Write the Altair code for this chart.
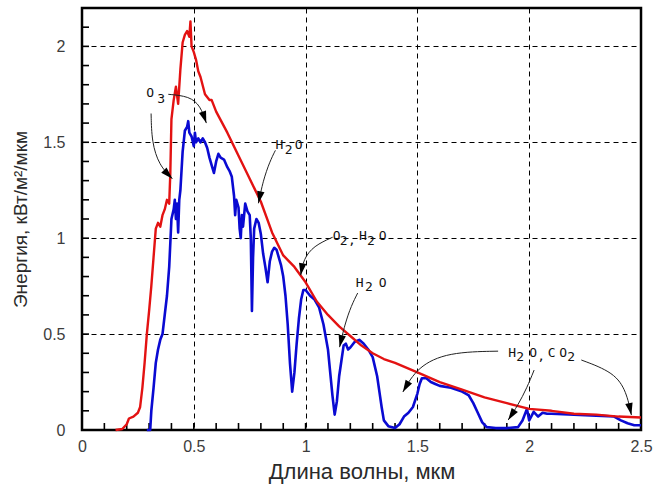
import math
import altair as alt
import pandas as pd

# ---- data: extraterrestrial (red) and sea-level (blue) solar spectra ----
red_lam = [0.15, 0.18, 0.20, 0.21, 0.23, 0.25, 0.26, 0.27, 0.28, 0.29, 0.30, 0.31, 0.32, 0.33,
           0.34, 0.35, 0.36, 0.37, 0.38, 0.39, 0.395, 0.40, 0.41, 0.42, 0.43, 0.44, 0.45, 0.46,
           0.47, 0.48, 0.485, 0.49, 0.50, 0.51, 0.52, 0.53, 0.55, 0.57, 0.58, 0.60, 0.65, 0.70,
           0.75, 0.80, 0.85, 0.90, 0.95, 1.00, 1.05, 1.10, 1.15, 1.20, 1.25, 1.30, 1.35, 1.40,
           1.50, 1.60, 1.70, 1.80, 1.90, 2.00, 2.10, 2.20, 2.30, 2.40, 2.50]
red_E = [0.0, 0.005, 0.03, 0.06, 0.07, 0.09, 0.12, 0.22, 0.35, 0.50, 0.62, 0.75, 0.90, 1.05,
         1.08, 1.06, 1.12, 1.15, 1.20, 1.18, 1.34, 1.62, 1.72, 1.79, 1.70, 1.88, 2.02, 2.06,
         2.08, 2.05, 2.13, 2.00, 1.97, 1.93, 1.87, 1.84, 1.75, 1.72, 1.72, 1.66, 1.55, 1.43,
         1.31, 1.19, 1.03, 0.91, 0.85, 0.77, 0.67, 0.60, 0.54, 0.49, 0.44, 0.40, 0.37, 0.35,
         0.30, 0.25, 0.21, 0.17, 0.14, 0.11, 0.10, 0.085, 0.08, 0.07, 0.065]

blue_lam = [0.29, 0.305, 0.31, 0.32, 0.33, 0.34, 0.35, 0.36, 0.37, 0.38, 0.39, 0.40, 0.41, 0.415,
            0.42, 0.425, 0.43, 0.435, 0.44, 0.45, 0.46, 0.47, 0.475, 0.48, 0.49, 0.50, 0.505,
            0.51, 0.52, 0.53, 0.54, 0.55, 0.56, 0.57, 0.58, 0.59, 0.60, 0.61, 0.62, 0.635, 0.65,
            0.66, 0.67, 0.68, 0.685, 0.69, 0.70, 0.705, 0.71, 0.715, 0.72, 0.73, 0.74, 0.75,
            0.755, 0.76, 0.765, 0.77, 0.78, 0.79, 0.80, 0.81, 0.82, 0.83, 0.84, 0.85, 0.86,
            0.87, 0.88, 0.89, 0.90, 0.91, 0.92, 0.93, 0.94, 0.95, 0.96, 0.97, 0.98, 0.99, 1.00,
            1.02, 1.04, 1.06, 1.08, 1.10, 1.11, 1.12, 1.13, 1.14, 1.15, 1.16, 1.17, 1.18, 1.19,
            1.20, 1.22, 1.24, 1.26, 1.28, 1.30, 1.32, 1.33, 1.34, 1.35, 1.37, 1.40, 1.42, 1.44,
            1.46, 1.48, 1.50, 1.51, 1.52, 1.54, 1.56, 1.58, 1.60, 1.65, 1.70, 1.73, 1.75, 1.77,
            1.79, 1.81, 1.85, 1.90, 1.95, 1.97, 1.99, 2.00, 2.02, 2.04, 2.06, 2.08, 2.10, 2.20,
            2.30, 2.38, 2.41, 2.44, 2.47, 2.50]
blue_E = [0.0, 0.0, 0.10, 0.22, 0.35, 0.42, 0.47, 0.50, 0.60, 0.70, 0.85, 1.10, 1.15, 1.20,
          1.10, 1.18, 1.03, 1.20, 1.25, 1.45, 1.56, 1.58, 1.61, 1.55, 1.53, 1.48, 1.55,
          1.50, 1.52, 1.50, 1.52, 1.50, 1.47, 1.42, 1.38, 1.34, 1.40, 1.44, 1.42, 1.41, 1.37,
          1.35, 1.32, 1.22, 1.12, 1.20, 1.16, 1.05, 1.00, 1.12, 1.06, 1.18, 1.14, 1.12,
          1.00, 0.62, 0.90, 1.05, 1.10, 1.08, 1.02, 0.92, 0.85, 0.77, 0.88, 0.93, 0.95,
          0.94, 0.90, 0.86, 0.80, 0.70, 0.55, 0.35, 0.20, 0.30, 0.45, 0.58, 0.68, 0.73, 0.73,
          0.70, 0.68, 0.64, 0.55, 0.42, 0.30, 0.18, 0.08, 0.15, 0.28, 0.36, 0.44, 0.45, 0.42,
          0.43, 0.46, 0.47, 0.45, 0.42, 0.38, 0.28, 0.20, 0.12, 0.05, 0.02, 0.01, 0.03, 0.07,
          0.09, 0.12, 0.19, 0.24, 0.27, 0.27, 0.25, 0.24, 0.23, 0.22, 0.20, 0.18, 0.14, 0.09,
          0.04, 0.015, 0.01, 0.01, 0.015, 0.05, 0.11, 0.05, 0.095, 0.07, 0.09, 0.085, 0.085, 0.08,
          0.075, 0.07, 0.05, 0.035, 0.025, 0.025]

x_ticks = [0.0, 0.1, 0.2, 0.3, 0.4, 0.5, 0.6, 0.7, 0.8, 0.9, 1.0, 1.1, 1.2, 1.3, 1.4, 1.5,
           1.6, 1.7, 1.8, 1.9, 2.0, 2.1, 2.2, 2.3, 2.4, 2.5]
y_ticks = [0.0, 0.1, 0.2, 0.3, 0.4, 0.5, 0.6, 0.7, 0.8, 0.9, 1.0, 1.1, 1.2, 1.3, 1.4, 1.5,
           1.6, 1.7, 1.8, 1.9, 2.0, 2.1, 2.2]

# ---- annotations (text pieces; subscripts are separate, lower pieces) ----
ann_txt = ["O", "3",
           "H", "2", "O",
           "O", "2", ",", "H", "2", "O",
           "H", "2", "O",
           "H", "2", "O", ",", "C", "O", "2"]
ann_lam = [0.305, 0.354,
           0.883, 0.924, 0.969,
           1.139, 1.170, 1.207, 1.256, 1.292, 1.345,
           1.242, 1.283, 1.345,
           1.924, 1.960, 2.018, 2.054, 2.100, 2.152, 2.188]
ann_E = [1.755, 1.728,
         1.485, 1.458, 1.485,
         1.010, 0.987, 0.990, 1.010, 0.987, 1.010,
         0.766, 0.745, 0.766,
         0.400, 0.378, 0.400, 0.385, 0.400, 0.400, 0.378]

arrow_paths = [
    [(0.309, 1.65), (0.312, 1.50), (0.345, 1.38), (0.404, 1.31)],
    [(0.386, 1.75), (0.480, 1.74), (0.530, 1.69), (0.556, 1.60)],
    [(0.865, 1.458), (0.840, 1.40), (0.810, 1.30), (0.789, 1.182)],
    [(1.121, 1.005), (1.036, 0.96), (0.990, 0.89), (0.978, 0.807)],
    [(1.233, 0.714), (1.205, 0.65), (1.175, 0.55), (1.152, 0.432)],
    [(1.861, 0.411), (1.637, 0.406), (1.500, 0.33), (1.435, 0.198)],
    [(2.022, 0.3125), (1.990, 0.22), (1.950, 0.13), (1.906, 0.052)],
    [(2.233, 0.365), (2.381, 0.30), (2.435, 0.20), (2.457, 0.078)],
]

W, H = 559, 422
XMAX, YMAX = 2.5, 2.2
PX_X, PX_Y = W / XMAX, H / YMAX
TICK = 7

red_df = pd.DataFrame({"x": red_lam, "y": red_E})
blue_df = pd.DataFrame({"x": blue_lam, "y": blue_E})
txt_df = pd.DataFrame({"x": ann_lam, "y": ann_E, "t": ann_txt})
# tick marks in data units: bottom ticks go from y=0 up TICK px, left ticks from x=0 right TICK px
xt_df = pd.DataFrame({"x": x_ticks, "y": [0.0] * len(x_ticks), "y2": [TICK / PX_Y] * len(x_ticks)})
yt_df = pd.DataFrame({"y": y_ticks, "x": [0.0] * len(y_ticks), "x2": [TICK / PX_X] * len(y_ticks)})

rows = []
heads = []
for k, pts in enumerate(arrow_paths):
    for i, (a, b) in enumerate(pts):
        rows.append({"x": a, "y": b, "g": k, "i": i})
    (x1, y1), (x2, y2) = pts[-2], pts[-1]
    dx = (x2 - x1) * PX_X
    dy = -(y2 - y1) * PX_Y
    n = math.hypot(dx, dy)
    ux, uy = dx / n, dy / n
    ang = math.degrees(math.atan2(ux, -uy)) % 360
    heads.append({"x": x2 - 6 * ux / PX_X, "y": y2 + 6 * uy / PX_Y, "a": ang})
arr_df = pd.DataFrame(rows)
head_df = pd.DataFrame(heads)

xscale = alt.Scale(domain=[0, XMAX], nice=False, zero=False)
yscale = alt.Scale(domain=[0, YMAX], nice=False, zero=False)

major = "abs(datum.value*2 - round(datum.value*2)) < 0.001"
FONT = "Liberation Sans"

xaxis = alt.Axis(
    values=x_ticks, title="Длина волны, мкм", domain=False,
    grid=True, gridColor="black", gridDash=[5, 4], gridWidth=1,
    gridOpacity={"condition": {"test": major, "value": 1}, "value": 0},
    ticks=True, tickOpacity=0, tickSize=TICK, offset=-TICK,
    labelExpr=f"{major} ? format(datum.value, '~g') : ''",
    labelFont=FONT, labelFontSize=16, labelColor="#3c3c3c", labelPadding=8,
    labelFlush=False, labelOverlap=False,
    titleFont=FONT, titleFontSize=22, titleFontWeight="normal", titleColor="#2a2a2a",
    titlePadding=7,
)
yaxis = alt.Axis(
    values=y_ticks, title="Энергия, кВт/м²/мкм", domain=False,
    grid=True, gridColor="black", gridDash=[5, 4], gridWidth=1,
    gridOpacity={"condition": {"test": major, "value": 1}, "value": 0},
    ticks=True, tickOpacity=0, tickSize=TICK, offset=-TICK,
    labelExpr=f"{major} ? format(datum.value, '~g') : ''",
    labelFont=FONT, labelFontSize=16, labelColor="#3c3c3c", labelPadding=17,
    labelOverlap=False, labelFlush=False,
    titleFont=FONT, titleFontSize=19, titleFontWeight="normal", titleColor="#2a2a2a",
    titlePadding=12,
)

X = alt.X("x:Q", scale=xscale, axis=xaxis)
Y = alt.Y("y:Q", scale=yscale, axis=yaxis)

blue = alt.Chart(blue_df).mark_line(color="#0a0ad2", strokeWidth=2.6, strokeJoin="round").encode(
    x=X, y=Y,
)
red = alt.Chart(red_df).mark_line(color="#e31212", strokeWidth=2.4, strokeJoin="round").encode(
    x=X, y=Y,
)
arrows = alt.Chart(arr_df).mark_line(color="#222222", strokeWidth=1, interpolate="basis").encode(
    x=X, y=Y,
    detail="g:N",
    order="i:Q",
)
heads_l = alt.Chart(head_df).mark_point(
    shape="M0,-1L0.62,1L-0.62,1Z", filled=True, color="black", opacity=1, size=144
).encode(
    x=X, y=Y,
    angle=alt.Angle("a:Q", scale=None),
)
texts = alt.Chart(txt_df).mark_text(
    font="DejaVu Sans Mono", fontSize=13, color="#111111", align="center", baseline="middle"
).encode(
    x=X, y=Y,
    text="t:N",
)
xticks_l = alt.Chart(xt_df).mark_rule(color="black", strokeWidth=1.6, opacity=1).encode(
    x=X, y=Y, y2="y2:Q",
)
yticks_l = alt.Chart(yt_df).mark_rule(color="black", strokeWidth=1.6, opacity=1).encode(
    y=Y, x=X, x2="x2:Q",
)

chart = alt.layer(xticks_l, yticks_l, blue, red, arrows, heads_l, texts).properties(
    width=W, height=H,
    autosize=alt.AutoSizeParams(type="none"),
    padding={"left": 82, "top": 8, "right": 13, "bottom": 68},
    background="white",
).configure_view(stroke="black", strokeWidth=2.5)

chart.save("out.html", embed_options={"renderer": "svg", "actions": False})
